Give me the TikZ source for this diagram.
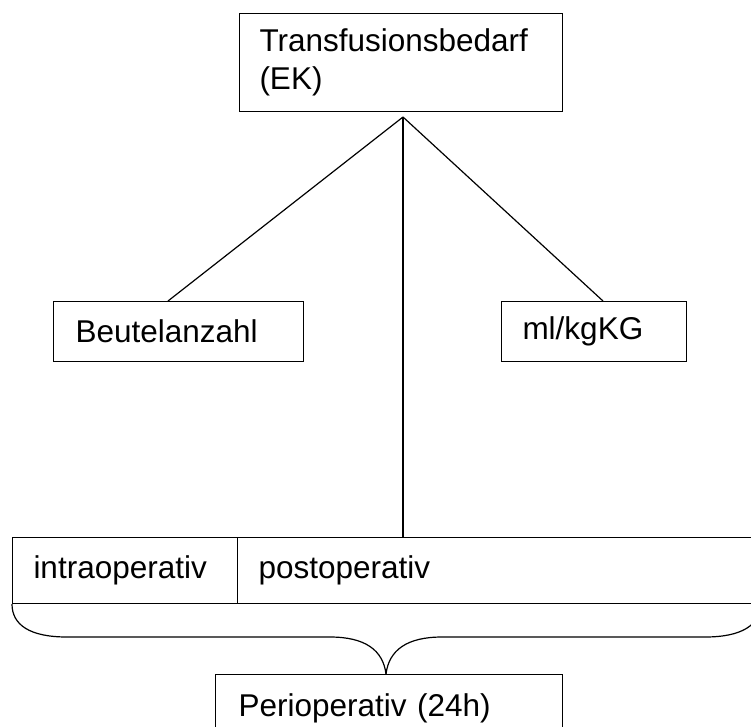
\documentclass[tikz,border=0pt]{standalone}
\usepackage{fontspec}
\setmainfont{Liberation Sans}
\begin{document}
\begin{tikzpicture}[x=1pt,y=-1pt,
  box/.style={draw, line width=1pt, anchor=north west, inner ysep=0pt, align=left},
  conn/.style={line width=1.2pt},
  every node/.style={font=\fontsize{31.5}{38}\selectfont}]
\useasboundingbox (0,0) rectangle (751,726);
\clip (0,0) rectangle (751,726);
\node[box, minimum width=323, minimum height=98, text width=283, inner xsep=20] (top) at (239,13) {Transfusionsbedarf\\(EK)};
\node[box, minimum width=250, minimum height=60, text width=206, inner xsep=22] (beutel) at (53,301) {Beutelanzahl};
\node[box, minimum width=185, minimum height=60, text width=143, inner xsep=21] (ml) at (501,301) {ml/kgKG};
\node[box, minimum width=225, minimum height=66, text width=183, inner xsep=21] (intra) at (12,537) {intraoperativ};
\node[box, minimum width=523, minimum height=66, text width=481, inner xsep=21] (post) at (237,537) {postoperativ};
\node[box, minimum width=347, text width=301, inner xsep=23, text height=42, text depth=20] (peri) at (215,674) {Perioperativ (24h)};
\coordinate (hub) at (403,117);
\coordinate (bl) at (168,301);
\coordinate (mr) at (603,301);
\coordinate (pv) at (403,537);
\coordinate (tip) at (386,674);
\draw[conn] (hub) -- (bl);
\draw[conn] (hub) -- (mr);
\draw[conn] (hub) -- (pv);
\draw[conn] (intra.south west) .. controls (12,625) and (30,637) .. (67,637) -- (330,637) .. controls (365,637) and (383,650) .. (tip);
\draw[conn] (post.south east) .. controls (760,625) and (742,637) .. (705,637) -- (442,637) .. controls (407,637) and (389,650) .. (tip);
\end{tikzpicture}
\end{document}
